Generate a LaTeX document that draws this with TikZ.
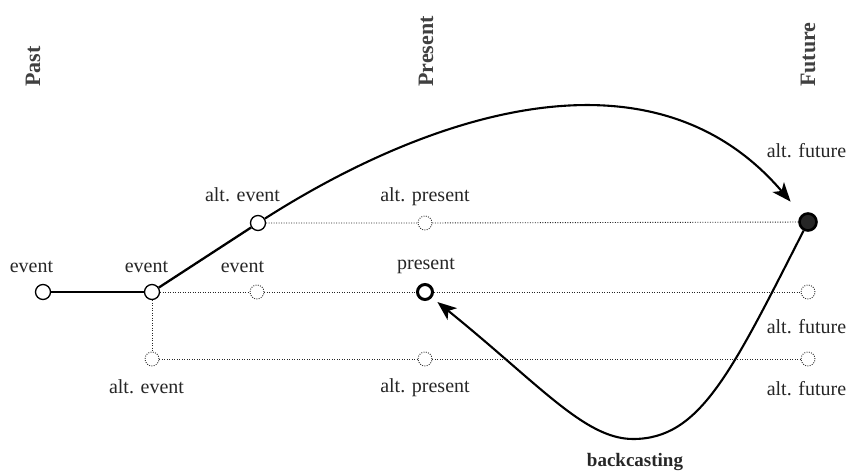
\documentclass[tikz,border=0pt]{standalone}
\usepackage{fontspec}
\setmainfont{Liberation Serif}
\usetikzlibrary{arrows.meta,backgrounds}
\begin{document}
\begin{tikzpicture}[x=1pt,y=1pt,
  lbl/.style={font=\fontsize{20}{24}\selectfont, text=black!85, inner sep=0pt, anchor=base},
  head/.style={font=\fontsize{22}{26}\bfseries\selectfont, inner sep=0pt, rotate=90, anchor=base west, text=black!75},
  solidev/.style={circle, draw=black, fill=white, line width=1.3pt, minimum size=15pt, inner sep=0pt},
  ghost/.style={circle, draw=black!85, fill=white, line width=0.9pt, dash pattern=on 0.9pt off 1.4pt, minimum size=14pt, inner sep=0pt},
  presentnode/.style={circle, draw=black, fill=white, line width=3pt, minimum size=15pt, inner sep=0pt},
  futurenode/.style={circle, draw=black, fill=black!85, line width=2.6pt, minimum size=17pt, inner sep=0pt},
  dots/.style={draw=black!85, line width=0.9pt, dash pattern=on 0.9pt off 1.6pt},
  path/.style={draw=black, line width=2.3pt},
  arr/.style={draw=black, line width=2.1pt, -{Stealth[length=19pt,width=15pt,inset=5pt]}}
]
\useasboundingbox (0,0) rectangle (860,472);

% headings
\node[head] (hpast) at (40,385) {Past};
\node[head] (hpres) at (433,385) {Present};
\node[head] (hfut) at (815,385) {Future};

% nodes
\node[solidev] (e1) at (43,180) {};
\node[solidev] (e2) at (152,180) {};
\node[ghost] (e3) at (257,180) {};
\node[presentnode] (pr) at (425,180) {};
\node[ghost] (f1) at (808,180) {};

\node[solidev] (ae) at (258,249) {};
\node[ghost] (ap) at (425,249) {};
\node[futurenode] (af) at (808,250) {};

\node[ghost] (ae2) at (152,113) {};
\node[ghost] (ap2) at (425,113) {};
\node[ghost] (af2) at (808,113) {};

\coordinate (bot) at (633,33);

% labels
\node[lbl] (l1) at (31.5,200) {event};
\node[lbl] (l2) at (146.5,200) {event};
\node[lbl] (l3) at (242.5,200) {event};
\node[lbl] (l4) at (242.5,270) {alt. event};
\node[lbl] (l5) at (425,270) {alt. present};
\node[lbl] (l6) at (426,202) {present};
\node[lbl] (l7) at (146.5,79) {alt. event};
\node[lbl] (l8) at (425,80) {alt. present};
\node[lbl] (l9) at (806.5,314) {alt. future};
\node[lbl] (l10) at (806.5,139) {alt. future};
\node[lbl] (l11) at (806.5,77) {alt. future};
\node[lbl, font=\fontsize{19}{22}\bfseries\selectfont] (l12) at (635,6) {backcasting};

\begin{pgfonlayer}{background}
  \draw[dots] (e2) -- (e3) -- (pr) -- (f1);
  \draw[dots] (ae) -- (ap) -- (af);
  \draw[dots] (e2) -- (ae2);
  \draw[dots] (ae2) -- (ap2) -- (af2);
  \draw[path] (e1) -- (e2);
  \draw[path] (e2) -- (ae);
  \draw[arr, shorten >=17pt] (ae) .. controls (424,355) and (650,435) .. (af);
  \draw[arr, shorten >=7pt] (af) .. controls (731,99) and (700,33) .. (bot)
        .. controls (585,33) and (540,87) .. (pr);
\end{pgfonlayer}
\end{tikzpicture}
\end{document}
